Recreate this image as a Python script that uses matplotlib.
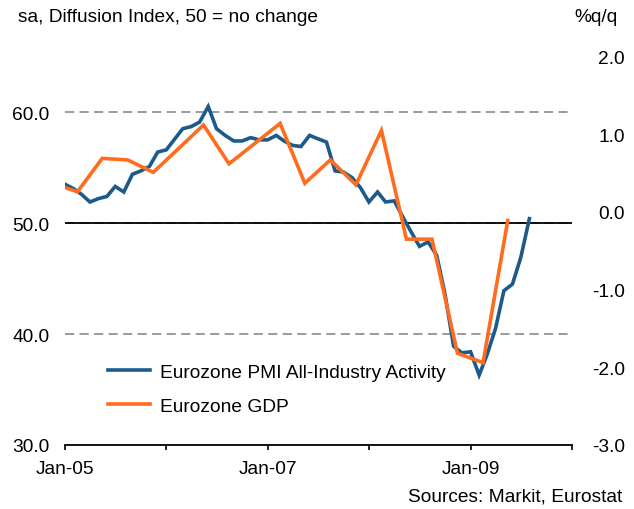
import numpy as np
import pandas as pd
import matplotlib.pyplot as plt

plt.rcParams['font.family'] = ['Liberation Sans', 'DejaVu Sans']

# Eurozone PMI composite, monthly Jan-05 .. Aug-09
pmi = [53.5, 53.1, 52.6, 51.9, 52.2, 52.4, 53.3, 52.8, 54.4, 54.7, 55.1, 56.4,
       56.6, 57.6, 58.5, 58.7, 59.1, 60.5, 58.5, 57.9, 57.4, 57.4, 57.7, 57.5,
       57.5, 57.9, 57.4, 57.0, 56.9, 57.9, 57.6, 57.3, 54.7, 54.6, 54.1, 53.2,
       51.9, 52.8, 51.9, 52.0, 50.6, 49.2, 47.9, 48.3, 47.1, 43.6, 38.9, 38.3,
       38.4, 36.3, 38.1, 40.5, 43.9, 44.5, 46.9, 50.4]
pmi_dates = pd.date_range('2005-01-01', periods=len(pmi), freq='MS')

# Eurozone GDP %q/q, Q4-04 .. Q2-09
gdp = [0.37, 0.26, 0.69, 0.67, 0.51, 0.82, 1.12, 0.62, 0.88, 1.14,
       0.37, 0.67, 0.35, 1.05, -0.35, -0.35, -1.82, -1.94, -0.11]
gdp_quarters = pd.period_range('2004Q4', periods=len(gdp), freq='Q')
# plotted at the middle of each quarter
gdp_dates = gdp_quarters.to_timestamp(how='start') + pd.DateOffset(months=1, days=14)

tick_dates = pd.date_range('2005-01-01', '2010-01-01', freq='YS')
tick_labels = ['Jan-05', '', 'Jan-07', '', 'Jan-09', '']

blue = '#1b5a8a'
orange = '#ff6c1f'
fs = 13.8

fig = plt.figure(figsize=(6.34, 5.10), dpi=100)
ax = fig.add_axes([0.1025, 0.1255, 0.7995, 0.7615])
ax2 = ax.twinx()

# grid and the 50 line
for v in [40, 50, 60]:
    ax.axhline(v, color='#808080', lw=1.1, dashes=(6, 3.5), zorder=1)
ax.axhline(50, color='black', lw=1.3, zorder=2)

ax.plot(pmi_dates, pmi, color=blue, lw=2.6, solid_joinstyle='miter', zorder=3,
        label='Eurozone PMI All-Industry Activity')
ax2.plot(gdp_dates, gdp, color=orange, lw=2.6, solid_joinstyle='miter',
         label='Eurozone GDP')

ax.set_xlim(tick_dates[0], tick_dates[-1])
ax.set_ylim(30, 65)
ax2.set_ylim(-3, 2)

ax.set_yticks([30, 40, 50, 60])
ax.set_yticklabels(['30.0', '40.0', '50.0', '60.0'])
ax2.set_yticks([-3, -2, -1, 0, 1, 2])
ax2.set_yticklabels(['-3.0', '-2.0', '-1.0', '0.0', '1.0', '2.0'])
for lbl in ax2.get_yticklabels():
    lbl.set_horizontalalignment('right')

ax.set_xticks(tick_dates)
ax.set_xticklabels(tick_labels)

ax.tick_params(axis='y', length=0, pad=11, labelsize=fs)
ax2.tick_params(axis='y', length=0, pad=38, labelsize=fs)
ax.tick_params(axis='x', length=3.5, width=1.2, direction='out', pad=7, labelsize=fs)

for s in ['top', 'left', 'right']:
    ax.spines[s].set_visible(False)
for s in ax2.spines.values():
    s.set_visible(False)
ax.spines['bottom'].set_linewidth(1.3)

h1, l1 = ax.get_legend_handles_labels()
h2, l2 = ax2.get_legend_handles_labels()
ax2.legend(h1 + h2, l1 + l2, loc='upper left', bbox_to_anchor=(0.085, 0.21),
           frameon=False, fontsize=fs, handlelength=2.2, handletextpad=0.5,
           labelspacing=0.85, borderpad=0, borderaxespad=0)

fig.text(18 / 634, 1 - 18 / 510, 'sa, Diffusion Index, 50 = no change',
         fontsize=fs, va='center', ha='left')
fig.text(618 / 634, 1 - 18 / 510, '%q/q', fontsize=fs, va='center', ha='right')
fig.text(622 / 634, 1 - 497 / 510, 'Sources: Markit, Eurostat',
         fontsize=fs, va='center', ha='right')

fig.savefig('out.png', dpi=100)
